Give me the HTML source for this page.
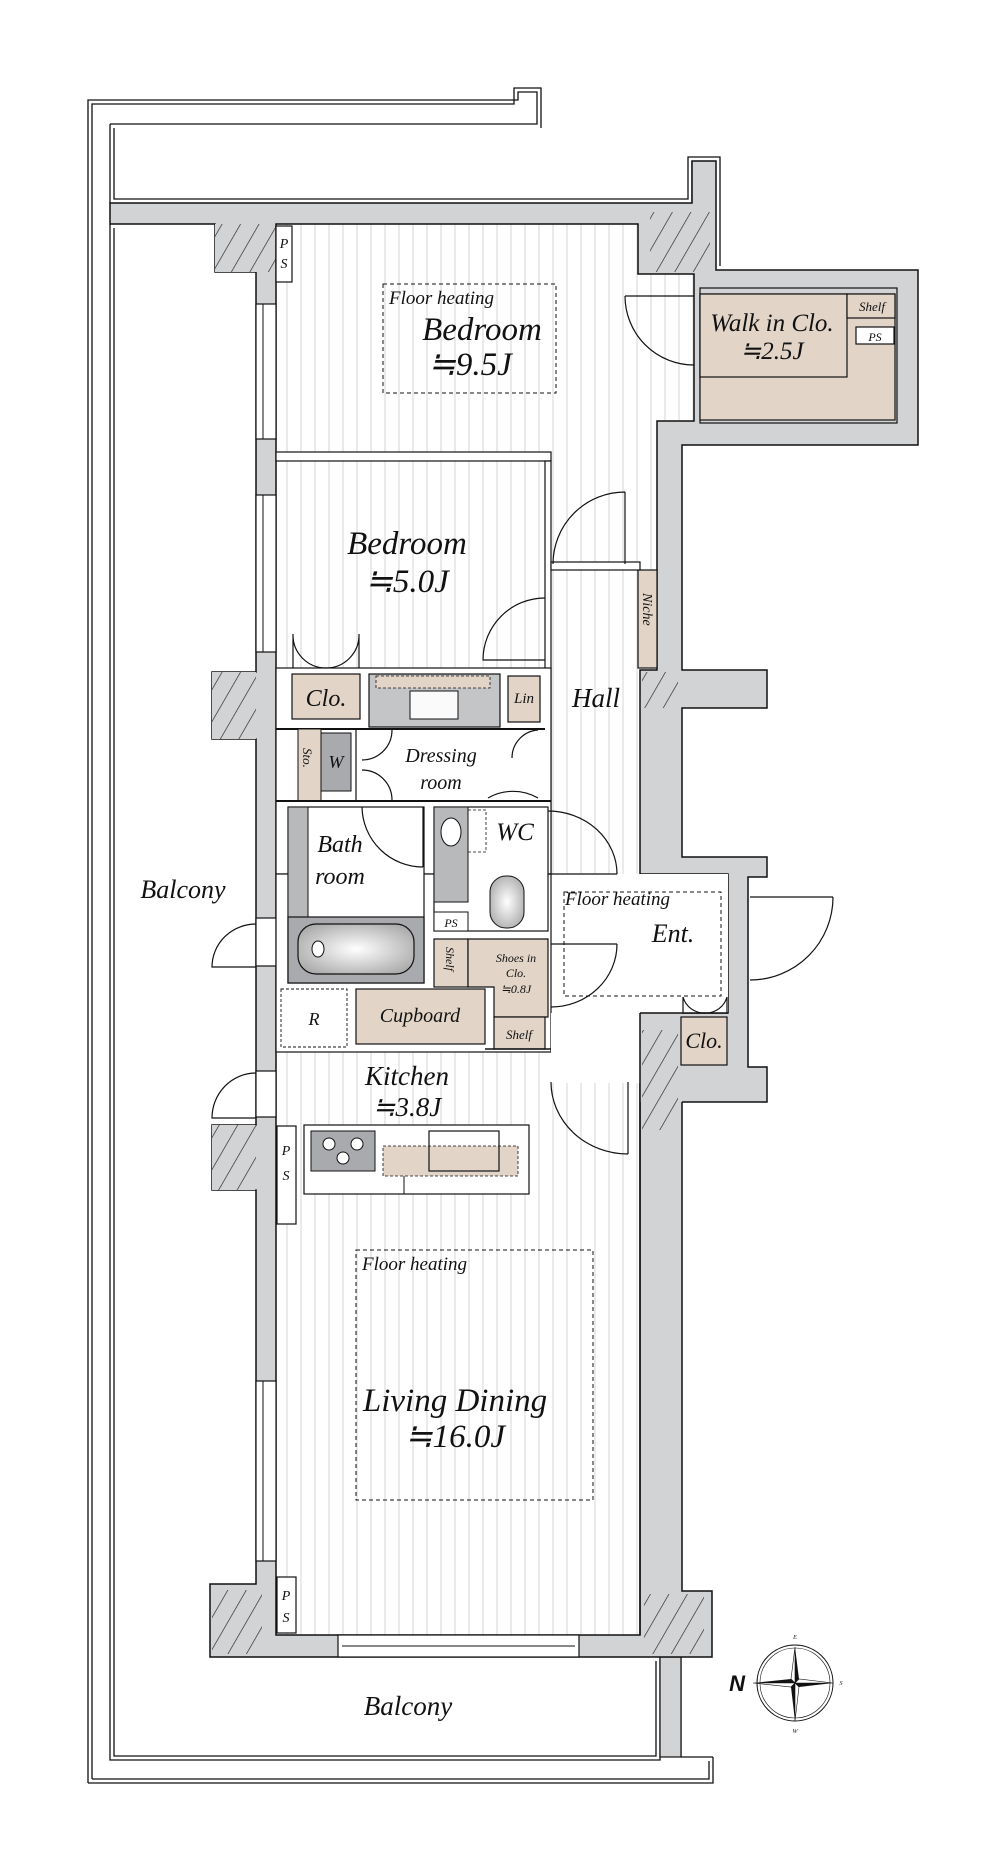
<!DOCTYPE html>
<html><head><meta charset="utf-8"><style>
html,body{margin:0;padding:0;background:#fff;}
svg{display:block;}
text{font-family:"Liberation Serif",serif;font-style:italic;fill:#111;}
</style></head><body>
<svg width="1000" height="1862" viewBox="0 0 1000 1862" xmlns="http://www.w3.org/2000/svg">
<defs>
<pattern id="fl" x="0" y="0" width="14" height="20" patternUnits="userSpaceOnUse">
<rect width="14" height="20" fill="#fff"/><line x1="7" y1="0" x2="7" y2="20" stroke="#d6d6d6" stroke-width="1"/>
</pattern>
<pattern id="ht" width="16" height="16" patternUnits="userSpaceOnUse" patternTransform="rotate(30)">
<rect width="16" height="16" fill="#d2d3d5"/><line x1="0" y1="0" x2="0" y2="16" stroke="#222" stroke-width="1.3"/>
</pattern>
<radialGradient id="sg" cx="50%" cy="50%" r="60%"><stop offset="0" stop-color="#fff"/><stop offset="1" stop-color="#aaa"/></radialGradient>
</defs>

<g fill="none" stroke="#111" stroke-width="1.3">
<path d="M88,1783 L88,100 L518,100 L518,92 L537,92 L537,124 L110,124 M88,1783 L713,1783 L713,1757"/>
<path d="M92,1779 L92,104 L514,104 L514,88 L541,88 L541,128"/>
<path d="M110,124 L110,203 M692,161 L692,203 M110,224 L110,1760 L660,1760 L660,1657 M681,1657 L681,1757 L713,1757 M92,1779 L709,1779 L709,1761"/>
<path d="M114,128 L114,199 L688,199 L688,157 L720,157 L720,266"/>
<path d="M114,228 L114,1756 L656,1756 L656,1661"/>
</g>
<rect x="660" y="1657" width="21" height="100" fill="#d2d3d5" stroke="#111" stroke-width="1.2"/>

<polygon points="110,203 692,203 692,161 716,161 716,270 918,270 918,445 682,445 682,670 767,670 767,708 682,708 682,857 767,857 767,877 748,877 748,1067 767,1067 767,1102 682,1102 682,1591 712,1591 712,1657 210,1657 210,1584 256,1584 256,1190 212,1190 212,1125 256,1125 256,739 212,739 212,672 256,672 256,272 215,272 215,224 110,224" fill="#d2d3d5" stroke="#111" stroke-width="1.5"/>

<rect x="215" y="224" width="61" height="48" fill="url(#ht)"/>
<rect x="212" y="672" width="44" height="67" fill="url(#ht)"/>
<rect x="212" y="1125" width="44" height="65" fill="url(#ht)"/>
<rect x="212" y="1590" width="50" height="64" fill="url(#ht)"/>
<rect x="644" y="1594" width="60" height="60" fill="url(#ht)"/>
<rect x="650" y="212" width="60" height="60" fill="url(#ht)"/>
<rect x="642" y="672" width="36" height="36" fill="url(#ht)"/>

<rect x="700" y="288" width="197" height="135" fill="#d2d3d5" stroke="#111" stroke-width="1.2"/>
<rect x="700" y="294" width="195" height="126" fill="#e2d5c8" stroke="#111" stroke-width="1.2"/>
<rect x="700" y="294" width="147" height="83" fill="#e2d5c8" stroke="#111" stroke-width="1.2"/>
<rect x="847" y="294" width="48" height="24" fill="#e2d5c8" stroke="#111" stroke-width="1.2"/>
<rect x="856" y="327" width="38" height="17" fill="#fff" stroke="#111" stroke-width="1.2"/>
<text x="872" y="311" font-size="13" text-anchor="middle">Shelf</text>
<text x="875" y="341" font-size="12" text-anchor="middle">PS</text>
<text x="772" y="331" font-size="25" text-anchor="middle">Walk in Clo.</text>
<text x="772" y="359" font-size="25" text-anchor="middle">≒2.5J</text>

<polygon points="276,224 638,224 638,274 694,274 694,421 657,421 657,670 640,670 640,874 728,874 728,1013 640,1013 640,1635 276,1635" fill="url(#fl)" stroke="#111" stroke-width="1.5"/>
<rect x="638" y="570" width="19" height="98" fill="#e2d5c8" stroke="#111" stroke-width="1.2"/>
<text transform="translate(643,593) rotate(90)" font-size="14">Niche</text>

<g fill="#fff" stroke="#111" stroke-width="1.2">
<rect x="256" y="304" width="20" height="135"/>
<rect x="256" y="495" width="20" height="157"/>
<rect x="256" y="918" width="20" height="48"/>
<rect x="256" y="1071" width="20" height="46"/>
<rect x="256" y="1381" width="20" height="180"/>
<rect x="338" y="1635" width="241" height="22"/>
</g>
<g stroke="#111" stroke-width="1">
<line x1="263" y1="304" x2="263" y2="439"/><line x1="263" y1="495" x2="263" y2="652"/><line x1="263" y1="1381" x2="263" y2="1561"/><line x1="342" y1="1646" x2="575" y2="1646"/>
</g>
<g fill="#fff" stroke="#111" stroke-width="1.2">
<rect x="276" y="226" width="16" height="56"/>
<rect x="277" y="727" width="13" height="72"/>
<rect x="277" y="1126" width="19" height="98"/>
<rect x="277" y="1577" width="19" height="56"/>
</g>
<g font-size="14" text-anchor="middle">
<text x="284" y="248">P</text><text x="284" y="268">S</text>
<text x="284" y="752">P</text><text x="284" y="772">S</text>
<text x="286" y="1155">P</text><text x="286" y="1180">S</text>
<text x="286" y="1600">P</text><text x="286" y="1622">S</text>
</g>

<g fill="#fff" stroke="#111" stroke-width="1.2">
<rect x="276" y="452" width="275" height="9"/>
<rect x="545" y="461" width="6" height="413"/>
<rect x="551" y="562" width="89" height="8" />
</g>
<rect x="276" y="668" width="275" height="206" fill="#fff" stroke="#111" stroke-width="1.2"/>
<rect x="551" y="874" width="177" height="139" fill="#fff" stroke="none"/>
<rect x="276" y="874" width="275" height="178" fill="#fff" stroke="#111" stroke-width="1.2"/>
<rect x="551" y="1013" width="89" height="70" fill="#fff"/>

<!-- wall block between Ent and LD -->
<rect x="640" y="1013" width="42" height="89" fill="#d2d3d5"/>
<rect x="642" y="1030" width="36" height="100" fill="url(#ht)"/>
<line x1="640" y1="1013" x2="640" y2="1635" stroke="#111" stroke-width="1.5"/>
<line x1="640" y1="1013" x2="728" y2="1013" stroke="#111" stroke-width="1.5"/>

<rect x="292" y="674" width="68" height="45" fill="#e2d5c8" stroke="#111" stroke-width="1.2"/>
<text x="326" y="706" font-size="24" text-anchor="middle">Clo.</text>
<rect x="369" y="674" width="131" height="53" fill="#c4c5c7" stroke="#111" stroke-width="1.2"/>
<rect x="376" y="676" width="114" height="12" fill="#e2d5c8" stroke="#111" stroke-width="0.8" stroke-dasharray="3,2"/>
<rect x="410" y="691" width="48" height="28" fill="#fafafa" stroke="#111" stroke-width="1"/>
<rect x="508" y="676" width="32" height="46" fill="#e2d5c8" stroke="#111" stroke-width="1.2"/>
<text x="524" y="703" font-size="15" text-anchor="middle">Lin</text>
<line x1="276" y1="729" x2="545" y2="729" stroke="#111" stroke-width="2"/>
<rect x="298" y="729" width="23" height="72" fill="#e2d5c8" stroke="#111" stroke-width="1"/>
<rect x="321" y="733" width="30" height="58" fill="#a9aaad" stroke="#111" stroke-width="1"/>
<text x="336" y="768" font-size="18" text-anchor="middle">W</text>
<text transform="translate(303,748) rotate(90)" font-size="13">Sto.</text>
<line x1="356" y1="729" x2="356" y2="801" stroke="#111" stroke-width="1.2"/>
<line x1="276" y1="801" x2="551" y2="801" stroke="#111" stroke-width="2"/>
<text x="441" y="762" font-size="20" text-anchor="middle">Dressing</text>
<text x="441" y="789" font-size="20" text-anchor="middle">room</text>

<rect x="288" y="807" width="136" height="176" fill="#fff" stroke="#111" stroke-width="1.2"/>
<rect x="288" y="807" width="20" height="110" fill="#b8b9bb" stroke="#111" stroke-width="1"/>
<rect x="288" y="917" width="136" height="66" fill="#a9aaad" stroke="#111" stroke-width="1.2"/>
<rect x="298" y="924" width="116" height="50" rx="18" fill="url(#sg)" stroke="#111" stroke-width="1.2"/>
<ellipse cx="318" cy="949" rx="6" ry="8" fill="#fff" stroke="#111"/>
<text x="340" y="852" font-size="24" text-anchor="middle">Bath</text>
<text x="340" y="884" font-size="24" text-anchor="middle">room</text>

<rect x="434" y="807" width="114" height="124" fill="#fff" stroke="#111" stroke-width="1.2"/>
<rect x="434" y="807" width="34" height="95" fill="#b8b9bb" stroke="#111" stroke-width="1"/>
<ellipse cx="451" cy="832" rx="10" ry="14" fill="#fff" stroke="#111"/>
<rect x="468" y="810" width="18" height="42" fill="none" stroke="#111" stroke-dasharray="3,2" stroke-width="0.8"/>
<rect x="490" y="876" width="34" height="52" rx="16" fill="url(#sg)" stroke="#111"/>
<rect x="434" y="912" width="34" height="19" fill="#fff" stroke="#111"/>
<text x="451" y="927" font-size="12" text-anchor="middle">PS</text>
<text x="515" y="840" font-size="25" text-anchor="middle">WC</text>

<rect x="434" y="939" width="34" height="48" fill="#e2d5c8" stroke="#111" stroke-width="1.2"/>
<text transform="translate(446,947) rotate(90)" font-size="12">Shelf</text>
<polygon points="468,939 548,939 548,1017 494,1017 494,987 468,987" fill="#e2d5c8" stroke="#111" stroke-width="1.2"/>
<text x="516" y="962" font-size="12" text-anchor="middle">Shoes in</text>
<text x="516" y="977" font-size="12" text-anchor="middle">Clo.</text>
<text x="516" y="993" font-size="12" text-anchor="middle">≒0.8J</text>
<rect x="494" y="1017" width="51" height="32" fill="#e2d5c8" stroke="#111" stroke-width="1.2"/>
<text x="519" y="1039" font-size="13" text-anchor="middle">Shelf</text>

<rect x="281" y="989" width="66" height="58" fill="#fff" stroke="#111" stroke-dasharray="3,2" stroke-width="0.9"/>
<text x="314" y="1025" font-size="18" text-anchor="middle">R</text>
<rect x="356" y="989" width="129" height="55" fill="#e2d5c8" stroke="#111" stroke-width="1.2"/>
<text x="420" y="1022" font-size="20" text-anchor="middle">Cupboard</text>
<line x1="485" y1="1049" x2="551" y2="1049" stroke="#111" stroke-width="1.5"/>
<text x="407" y="1085" font-size="27" text-anchor="middle">Kitchen</text>
<text x="407" y="1116" font-size="27" text-anchor="middle">≒3.8J</text>
<rect x="304" y="1125" width="225" height="69" fill="#fff" stroke="#111" stroke-width="1.2"/>
<rect x="311" y="1131" width="64" height="40" fill="#a9aaad" stroke="#111"/>
<circle cx="329" cy="1144" r="6" fill="#fff" stroke="#111"/><circle cx="357" cy="1144" r="6" fill="#fff" stroke="#111"/><circle cx="343" cy="1158" r="6" fill="#fff" stroke="#111"/>
<rect x="383" y="1146" width="135" height="30" fill="#e2d5c8" stroke="#111" stroke-dasharray="3,2" stroke-width="0.8"/>
<rect x="429" y="1131" width="70" height="40" fill="none" stroke="#111" stroke-width="1.2"/>
<line x1="404" y1="1176" x2="404" y2="1194" stroke="#111"/>

<g fill="none" stroke="#111" stroke-dasharray="4,3" stroke-width="1">
<rect x="383" y="284" width="173" height="109"/>
<rect x="564" y="892" width="157" height="104"/>
<rect x="356" y="1250" width="237" height="250"/>
</g>
<text x="389" y="304" font-size="19">Floor heating</text>
<text x="482" y="340" font-size="33" text-anchor="middle">Bedroom</text>
<text x="470" y="375" font-size="33" text-anchor="middle">≒9.5J</text>
<text x="407" y="554" font-size="33" text-anchor="middle">Bedroom</text>
<text x="407" y="592" font-size="33" text-anchor="middle">≒5.0J</text>
<text x="596" y="707" font-size="27" text-anchor="middle">Hall</text>
<text x="565" y="905" font-size="19">Floor heating</text>
<text x="673" y="942" font-size="26" text-anchor="middle">Ent.</text>
<text x="362" y="1270" font-size="19">Floor heating</text>
<text x="455" y="1411" font-size="33" text-anchor="middle">Living Dining</text>
<text x="455" y="1447" font-size="33" text-anchor="middle">≒16.0J</text>
<text x="183" y="898" font-size="26" text-anchor="middle">Balcony</text>
<text x="408" y="1715" font-size="27" text-anchor="middle">Balcony</text>

<rect x="681" y="1017" width="46" height="48" fill="#e2d5c8" stroke="#111" stroke-width="1.2"/>
<text x="704" y="1048" font-size="22" text-anchor="middle">Clo.</text>

<g fill="none" stroke="#111" stroke-width="1.2">
<path d="M625,296 L694,296 M625,296 A69,69 0 0 0 694,365"/>
<path d="M625,492 L625,564 M625,492 A72,72 0 0 0 553,564"/>
<path d="M545,598 A62,62 0 0 0 483,660 L545,660"/>
<path d="M293,634 L293,668 M293,634 A33,33 0 0 0 326,668 M359,634 L359,668 M359,634 A33,33 0 0 1 326,668"/>
<path d="M392,730 A30,30 0 0 1 362,760 M392,800 A30,30 0 0 0 362,770"/>
<path d="M538,730 A28,28 0 0 0 512,758 M538,798 A50,50 0 0 0 488,798"/>
<path d="M423,807 L423,867 M423,867 A61,61 0 0 1 362,807"/>
<path d="M548,874 L617,874 M617,874 A69,63 0 0 0 548,811"/>
<path d="M551,944 L617,944 M617,944 A66,63 0 0 1 551,1007"/>
<path d="M750,897 L833,897 M833,897 A83,83 0 0 1 750,980"/>
<path d="M628,1082 L628,1154 M551,1082 A77,72 0 0 0 628,1154"/>
<path d="M256,924 A44,43 0 0 0 212,967 L256,967"/>
<path d="M256,1073 A44,45 0 0 0 212,1118 L256,1118"/>
<path d="M683,1013 L683,997 A22,22 0 0 0 705,1013 M727,1013 L727,997 A22,22 0 0 1 705,1013"/>
</g>

<g transform="translate(795,1683)">
<ellipse cx="0" cy="0" rx="38" ry="38" fill="none" stroke="#111" stroke-width="1"/>
<ellipse cx="0" cy="0" rx="35" ry="35" fill="none" stroke="#111" stroke-width="0.6"/>
<polygon points="0,-36 4,-4 0,0" fill="#111"/><polygon points="0,-36 -4,-4 0,0" fill="#fff" stroke="#111" stroke-width="0.6"/>
<polygon points="0,38 -4,4 0,0" fill="#111"/><polygon points="0,38 4,4 0,0" fill="#fff" stroke="#111" stroke-width="0.6"/>
<polygon points="-42,0 -4,-4 0,0" fill="#111"/><polygon points="-42,0 -4,4 0,0" fill="#fff" stroke="#111" stroke-width="0.6"/>
<polygon points="38,0 4,4 0,0" fill="#111"/><polygon points="38,0 4,-4 0,0" fill="#fff" stroke="#111" stroke-width="0.6"/>
<text x="-58" y="8" font-size="22" font-style="normal" font-weight="bold" style="font-family:'Liberation Sans',sans-serif" text-anchor="middle">N</text>
<text x="0" y="-44" font-size="6" text-anchor="middle">E</text>
<text x="0" y="50" font-size="6" text-anchor="middle">W</text>
<text x="46" y="2" font-size="6" text-anchor="middle">S</text>
</g>
</svg>
</body></html>
